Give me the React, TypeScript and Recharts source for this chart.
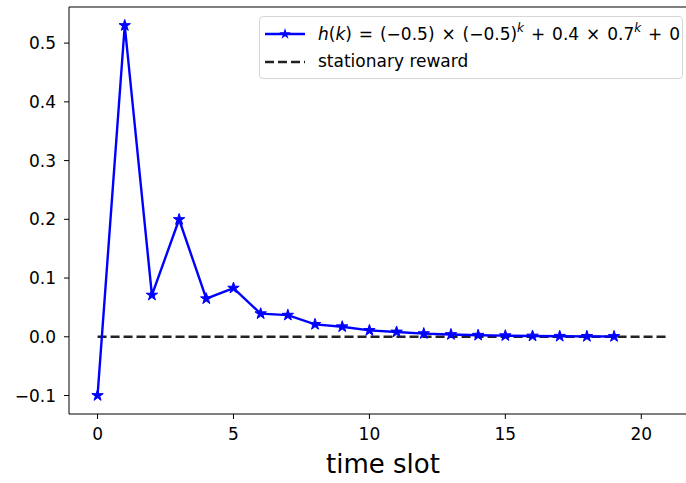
import { Line, LineChart, XAxis, YAxis } from "recharts";

const slots = [0, 1, 2, 3, 4, 5, 6, 7, 8, 9, 10, 11, 12, 13, 14, 15, 16, 17, 18, 19];
const hValues = [
  -0.1, 0.53, 0.071, 0.1997, 0.0648, 0.0829, 0.0393, 0.0368, 0.0211, 0.0171,
  0.0108, 0.0082, 0.0054, 0.0039, 0.0027, 0.0019, 0.0013, 0.0009, 0.0007, 0.0005,
];
const stationarySlots = [0, 21];
const stationaryValues = [0, 0];
const xTicks = [0, 5, 10, 15, 20];
const yTicks = [-0.1, 0, 0.1, 0.2, 0.3, 0.4, 0.5];

const BLUE = "#0000ff";
const FONT = "'DejaVu Sans', sans-serif";

const hRows = slots.map((k, i) => ({ k, h: hValues[i] }));
const stationaryRows = stationarySlots.map((k, i) => ({ k, s: stationaryValues[i] }));

function starPath(cx: number, cy: number, r: number) {
  const inner = r * 0.381966;
  const pts: string[] = [];
  for (let i = 0; i < 10; i++) {
    const rad = i % 2 === 0 ? r : inner;
    const a = -Math.PI / 2 + (i * Math.PI) / 5;
    pts.push(`${(cx + rad * Math.cos(a)).toFixed(2)},${(cy + rad * Math.sin(a)).toFixed(2)}`);
  }
  return `M${pts.join("L")}Z`;
}

function StarDot(props: { cx?: number; cy?: number; index?: number }) {
  const { cx, cy, index } = props;
  if (cx == null || cy == null) return null;
  return <path key={index} d={starPath(cx, cy, 6)} fill={BLUE} stroke={BLUE} strokeWidth={1} />;
}

const supStyle = {
  fontSize: 12,
  fontStyle: "italic",
  verticalAlign: "baseline",
  position: "relative" as const,
  top: -8,
  lineHeight: 0,
};

function LegendBox() {
  return (
    <div
      style={{
        position: "absolute",
        top: 16,
        left: 259,
        width: 424,
        height: 63,
        boxSizing: "border-box",
        border: "1px solid #d6d6d6",
        borderRadius: 4,
        background: "rgba(255,255,255,0.85)",
        padding: "3px 0 4px 5px",
        fontFamily: FONT,
        fontSize: 17,
        color: "#000",
        lineHeight: "27px",
        whiteSpace: "nowrap",
      }}
    >
      <div style={{ display: "flex", alignItems: "center", height: 28 }}>
        <svg width={44} height={20} style={{ marginRight: 9 }}>
          <line x1={0} y1={10} x2={40} y2={10} stroke={BLUE} strokeWidth={2.4} />
          <path d={starPath(20, 10, 6)} fill={BLUE} />
        </svg>
        <span style={{ wordSpacing: 1.5 }}>
          <i>h</i>(<i>k</i>) = (−0.5) × (−0.5)<span style={supStyle}>k</span> + 0.4 × 0.7
          <span style={supStyle}>k</span> + 0
        </span>
      </div>
      <div style={{ display: "flex", alignItems: "center", height: 27 }}>
        <svg width={44} height={20} style={{ marginRight: 9 }}>
          <line x1={0} y1={10} x2={40} y2={10} stroke="#222" strokeWidth={2.4} strokeDasharray="9 4" />
        </svg>
        <span>stationary reward</span>
      </div>
    </div>
  );
}

export default function App() {
  return (
    <div
      style={{
        position: "absolute",
        left: 0,
        top: 0,
        width: 686,
        height: 483,
        overflow: "hidden",
        background: "#fff",
        fontFamily: FONT,
      }}
    >
      <LineChart width={697} height={483} margin={{ top: 7, right: 0, bottom: 0, left: 0 }}>
        <XAxis
          dataKey="k"
          type="number"
          domain={[-1.05, 22.05]}
          ticks={xTicks}
          allowDataOverflow
          height={69}
          tickSize={5}
          tickMargin={9}
          stroke="#000"
          tick={{ fill: "#000", fontSize: 17, fontFamily: FONT }}
          label={{
            value: "time slot",
            position: "insideBottom",
            offset: 10,
            fill: "#000",
            fontSize: 26,
            fontFamily: FONT,
          }}
        />
        <YAxis
          type="number"
          domain={[-0.1315, 0.5615]}
          ticks={yTicks}
          allowDataOverflow
          width={69}
          tickSize={5}
          tickMargin={8}
          stroke="#000"
          tick={{ fill: "#000", fontSize: 17, fontFamily: FONT }}
          tickFormatter={(v: number) => v.toFixed(1).replace("-", "\u2212")}
        />
        <Line
          data={stationaryRows}
          dataKey="s"
          stroke="#222"
          strokeWidth={2.4}
          strokeDasharray="9 4"
          dot={false}
          activeDot={false}
          isAnimationActive={false}
        />
        <Line
          data={hRows}
          dataKey="h"
          type="linear"
          stroke={BLUE}
          strokeWidth={2.4}
          dot={<StarDot />}
          activeDot={false}
          isAnimationActive={false}
        />
        <line x1={69} y1={7} x2={697} y2={7} stroke="#000" strokeWidth={1} />
      </LineChart>
      <LegendBox />
    </div>
  );
}
